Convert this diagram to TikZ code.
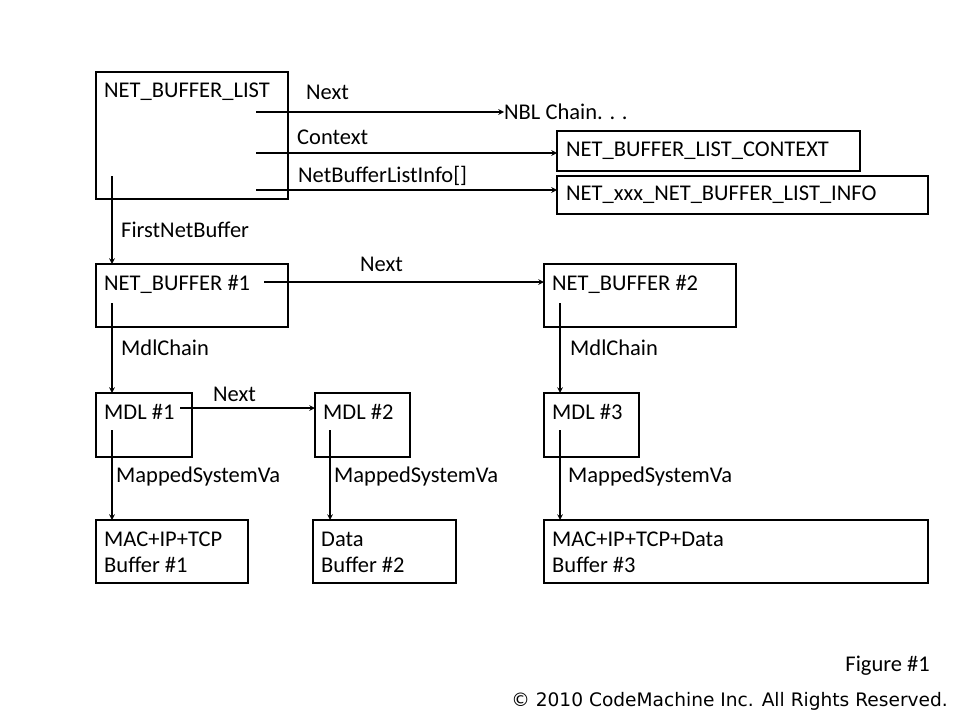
\documentclass[tikz,border=0pt]{standalone}
\usepackage{fontspec}
\setmainfont{Carlito}
\newfontfamily\copyfont{DejaVu Sans}
\usetikzlibrary{calc}
\tikzset{
  blk/.style={line width=1.5pt},
  lbl/.style={anchor=west,inner sep=0pt,font=\fontsize{22.5}{26}\selectfont},
  ptr/.style={line width=1.5pt,->,>=stealth}
}
\begin{document}
\begin{tikzpicture}[x=1pt,y=-1pt]
    \useasboundingbox (0,0) rectangle (960,720);
    % boxes
    \draw[blk] (96,72) rectangle (288,199);
    \node[lbl] (nbl) at (104,92) {NET\_BUFFER\_LIST};
    \draw[blk] (557,131) rectangle (860,171);
    \node[lbl] (ctx) at (566,151) {NET\_BUFFER\_LIST\_CONTEXT};
    \draw[blk] (557,176) rectangle (928,214);
    \node[lbl] (info) at (566,195) {NET\_xxx\_NET\_BUFFER\_LIST\_INFO};
    \draw[blk] (96,264) rectangle (288,327);
    \node[lbl] (nb1) at (104,284) {NET\_BUFFER \#1};
    \draw[blk] (544,264) rectangle (736,327);
    \node[lbl] (nb2) at (552,284) {NET\_BUFFER \#2};
    \draw[blk] (96,393) rectangle (192,457);
    \node[lbl] (mdl1) at (104,412) {MDL \#1};
    \draw[blk] (315,393) rectangle (410,457);
    \node[lbl] (mdl2) at (323,412) {MDL \#2};
    \draw[blk] (544,393) rectangle (639,457);
    \node[lbl] (mdl3) at (552,412) {MDL \#3};
    \draw[blk] (96,520) rectangle (248,583);
    \node[lbl,align=left] (buf1) at (104,552) {MAC+IP+TCP\\Buffer \#1};
    \draw[blk] (313,520) rectangle (456,583);
    \node[lbl,align=left] (buf2) at (321,552) {Data\\Buffer \#2};
    \draw[blk] (544,520) rectangle (928,583);
    \node[lbl,align=left] (buf3) at (552,552) {MAC+IP+TCP+Data\\Buffer \#3};
    \node[lbl] (chain) at (504,112) {NBL Chain. . .};
    % pointers
    \draw[ptr] (256,112) -- (chain.west);
    \node[lbl] at (306,92) {Next};
    \draw[ptr] (256,153) -- (557,153);
    \node[lbl] at (297,137) {Context};
    \draw[ptr] (256,190) -- (557,190);
    \node[lbl] at (298,176) {NetBufferListInfo[]};
    \draw[ptr] (112,176) -- (112,264);
    \node[lbl] at (121,230) {FirstNetBuffer};
    \draw[ptr] (264,282) -- (544,282);
    \node[lbl] at (360,264) {Next};
    \draw[ptr] (112,303) -- (112,393);
    \node[lbl] at (121,348) {MdlChain};
    \draw[ptr] (560,303) -- (560,393);
    \node[lbl] at (570,348) {MdlChain};
    \draw[ptr] (180,408) -- (315,408);
    \node[lbl] at (213,394) {Next};
    \draw[ptr] (112,430) -- (112,520);
    \node[lbl] at (116,476) {MappedSystemVa};
    \draw[ptr] (330,430) -- (330,520);
    \node[lbl] at (334,476) {MappedSystemVa};
    \draw[ptr] (560,430) -- (560,520);
    \node[lbl] at (568,476) {MappedSystemVa};
    % footer
    \node[lbl,anchor=east] (fig) at (930,666) {Figure \#1};
    \node[anchor=east,inner sep=0pt,font=\copyfont\fontsize{18.6}{22}\selectfont] (copy) at (948,701) {© 2010 CodeMachine Inc. All Rights Reserved.};
\end{tikzpicture}
\end{document}
